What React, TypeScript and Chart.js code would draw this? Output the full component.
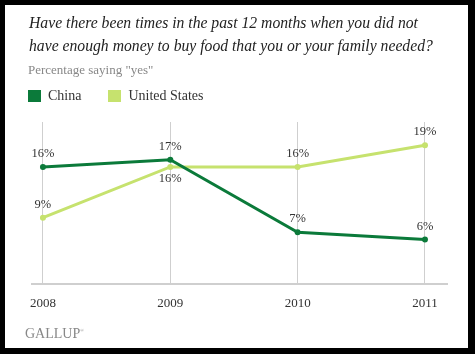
import React, { useEffect, useRef } from "react";
import { Chart, registerables } from "chart.js";

Chart.register(...registerables);

const years = [2008, 2009, 2010, 2011];
const tickLabels = ["2008", "2009", "2010", "2011"];
const chinaValues = [16, 17, 7, 6];
const usValues = [9, 16, 16, 19];
const seriesNames = ["China", "United States"];
const seriesColors = ["#0b7a3a", "#c6e26e"];

const titleLines = [
  "Have there been times in the past 12 months when you did not",
  "have enough money to buy food that you or your family needed?",
];
const subtitle = 'Percentage saying "yes"';

const labelPlugin = {
  id: "pointLabels",
  afterDatasetsDraw(chart: any) {
    const ctx = chart.ctx;
    ctx.save();
    ctx.font = '12.5px "Liberation Serif"';
    ctx.fillStyle = "#333";
    ctx.textAlign = "center";
    ctx.textBaseline = "middle";
    chart.data.datasets.forEach((ds: any, di: number) => {
      const meta = chart.getDatasetMeta(di);
      const other = chart.data.datasets[1 - di];
      meta.data.forEach((pt: any, i: number) => {
        const v = ds.data[i].y;
        const ov = other.data[i].y;
        const below = ov > v && ov - v <= 3;
        ctx.fillText(v + "%", pt.x, below ? pt.y + 12 : pt.y - 13);
      });
    });
    ctx.restore();
  },
};

export default function App() {
  const ref = useRef<HTMLCanvasElement | null>(null);

  useEffect(() => {
    if (!ref.current) return;
    const chart = new Chart(ref.current, {
      type: "line",
      data: {
        datasets: [
          {
            label: seriesNames[0],
            data: years.map((x, i) => ({ x, y: chinaValues[i] })),
            borderColor: seriesColors[0],
            backgroundColor: seriesColors[0],
            borderWidth: 3,
            pointRadius: 3,
            pointBorderWidth: 0,
            tension: 0,
          },
          {
            label: seriesNames[1],
            data: years.map((x, i) => ({ x, y: usValues[i] })),
            borderColor: seriesColors[1],
            backgroundColor: seriesColors[1],
            borderWidth: 3,
            pointRadius: 3,
            pointBorderWidth: 0,
            tension: 0,
          },
        ],
      },
      options: {
        responsive: false,
        animation: false,
        layout: { padding: { left: 32, right: 28, top: 122, bottom: 32 } },
        plugins: { legend: { display: false }, tooltip: { enabled: false } },
        scales: {
          x: {
            type: "linear",
            min: 2007.914,
            max: 2011.173,
            afterBuildTicks: (scale: any) => {
              scale.ticks = years.map((v) => ({ value: v }));
            },
            ticks: {
              callback: (_v: any, i: number) => tickLabels[i],
              font: { family: '"Liberation Serif"', size: 13 },
              color: "#333",
              padding: 11,
              maxRotation: 0,
              autoSkip: false,
            },
            grid: { color: "#cfcfcf", lineWidth: 1, drawTicks: false, tickLength: 0 },
            border: { color: "#cfcfcf", width: 2 },
          },
          y: {
            display: false,
            min: -0.2,
            max: 22.2,
          },
        },
      },
      plugins: [labelPlugin],
    });
    return () => chart.destroy();
  }, []);

  return (
    <div style={{ position: "fixed", left: 0, top: 0, width: 475, height: 354, background: "#000", overflow: "hidden" }}>
      <div style={{ position: "absolute", left: 5, top: 5, width: 463, height: 343, background: "#fff" }} />
      <canvas ref={ref} width={475} height={354} style={{ position: "absolute", left: 0, top: 0 }} />
      <div style={{ position: "absolute", left: 29, top: 11, fontFamily: '"Liberation Serif", serif', fontStyle: "italic", fontSize: 15.7, lineHeight: "23px", color: "#222", whiteSpace: "nowrap" }}>
        {titleLines[0]}
        <br />
        {titleLines[1]}
      </div>
      <div style={{ position: "absolute", left: 28, top: 62, fontFamily: '"Liberation Serif", serif', fontSize: 13, color: "#888", whiteSpace: "nowrap", lineHeight: "16px" }}>
        {subtitle}
      </div>
      <div style={{ position: "absolute", left: 28, top: 89, display: "flex", alignItems: "center", fontFamily: '"Liberation Serif", serif', fontSize: 14, color: "#333", whiteSpace: "nowrap", lineHeight: "14px" }}>
        <span style={{ display: "inline-block", width: 13, height: 12, background: seriesColors[0], marginRight: 7 }} />
        <span style={{ marginRight: 27 }}>{seriesNames[0]}</span>
        <span style={{ display: "inline-block", width: 13, height: 12, background: seriesColors[1], marginRight: 7 }} />
        <span>{seriesNames[1]}</span>
      </div>
      <div style={{ position: "absolute", left: 25, top: 323, fontFamily: '"Liberation Serif", serif', fontSize: 14, color: "#888", whiteSpace: "nowrap", lineHeight: "16px" }}>
        GALLUP<sup style={{ fontSize: 5 }}>®</sup>
      </div>
    </div>
  );
}
